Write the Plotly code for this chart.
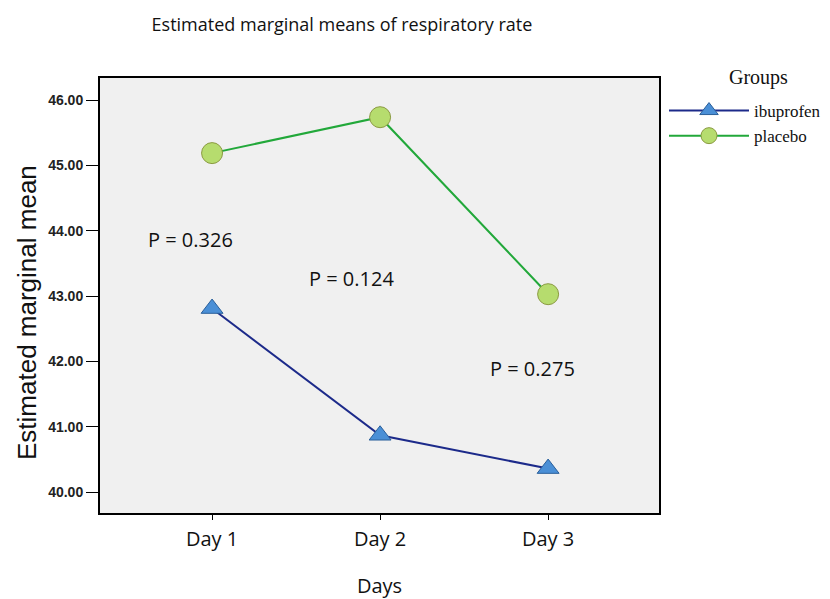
import plotly.graph_objects as go

days = ["Day 1", "Day 2", "Day 3"]
day_pos = [1, 2, 3]
ibuprofen = [42.81, 40.87, 40.36]
placebo = [45.19, 45.74, 43.03]
p_labels = ["P = 0.326", "P = 0.124", "P = 0.275"]
p_x = [0.87, 1.83, 2.91]
p_y = [43.87, 43.27, 41.90]
y_ticks = [40, 41, 42, 43, 44, 45, 46]

SANS = "Open Sans, Lato, sans-serif"
SERIF = "Liberation Serif, Times New Roman, serif"
ARIAL = "Liberation Sans, Arial, sans-serif"

fig = go.Figure()
fig.add_trace(go.Scatter(
    x=day_pos, y=ibuprofen, name="ibuprofen", mode="lines+markers",
    line=dict(color="#1c2a8a", width=2),
    marker=dict(symbol="triangle-up", size=19, color="#4a8fd6",
                line=dict(color="#2a5f9a", width=1)),
))
fig.add_trace(go.Scatter(
    x=day_pos, y=placebo, name="placebo", mode="lines+markers",
    line=dict(color="#22a83a", width=2),
    marker=dict(symbol="circle", size=21, color="#b6dc6e",
                line=dict(color="#8a9a40", width=1)),
))

for t, x, y in zip(p_labels, p_x, p_y):
    fig.add_annotation(x=x, y=y, text=t, showarrow=False,
                       font=dict(family=SANS, size=20, color="#111111"))

# legend title
fig.add_annotation(xref="paper", yref="paper", x=(758 - 100) / 559, y=1 + (78 - 77) / 435,
                   text="Groups", showarrow=False, xanchor="center", yanchor="middle",
                   font=dict(family=SERIF, size=20, color="#111111"))
# y-axis title
fig.add_annotation(xref="paper", yref="paper", x=(27 - 100) / 559, y=(513 - 313) / 435,
                   text="Estimated marginal mean", showarrow=False, textangle=-90,
                   xanchor="center", yanchor="middle",
                   font=dict(family=ARIAL, size=26, color="#111111"))

fig.update_layout(
    width=830, height=599,
    paper_bgcolor="white", plot_bgcolor="#f0f0f0",
    margin=dict(l=100, r=171, t=78, b=86),
    title=dict(text="Estimated marginal means of respiratory rate",
               x=0.412, xanchor="center", y=0.958, yanchor="middle",
               font=dict(family=SANS, size=18, color="#111111")),
    showlegend=True,
    legend=dict(xref="container", yref="container",
                x=664 / 830, y=1 - 93 / 599, xanchor="left", yanchor="top",
                bgcolor="rgba(0,0,0,0)",
                font=dict(family=SERIF, size=17, color="#111111"),
                itemwidth=80, tracegroupgap=0),
    xaxis=dict(range=[0.333, 3.66], tickvals=day_pos, ticktext=days,
               automargin=False,
               showgrid=False, zeroline=False,
               showline=True, linecolor="black", linewidth=2, mirror=True,
               ticks="outside", ticklen=5, tickcolor="black", tickwidth=1,
               ticklabelstandoff=2,
               tickfont=dict(family=SANS, size=20, color="#111111"),
               title=dict(text="Days", standoff=34,
                          font=dict(family=SANS, size=20, color="#111111"))),
    yaxis=dict(range=[39.68, 46.34], tickvals=y_ticks,
               ticktext=[f"{v:.2f}" for v in y_ticks],
               automargin=False,
               showgrid=False, zeroline=False,
               showline=True, linecolor="black", linewidth=2, mirror=True,
               ticks="outside", ticklen=12, tickcolor="black", tickwidth=1,
               tickfont=dict(family=ARIAL, size=14, color="#222222", weight="bold")),
)

fig.write_html("out.html", config={"displayModeBar": False},
               post_script="document.body.style.margin='0';")
